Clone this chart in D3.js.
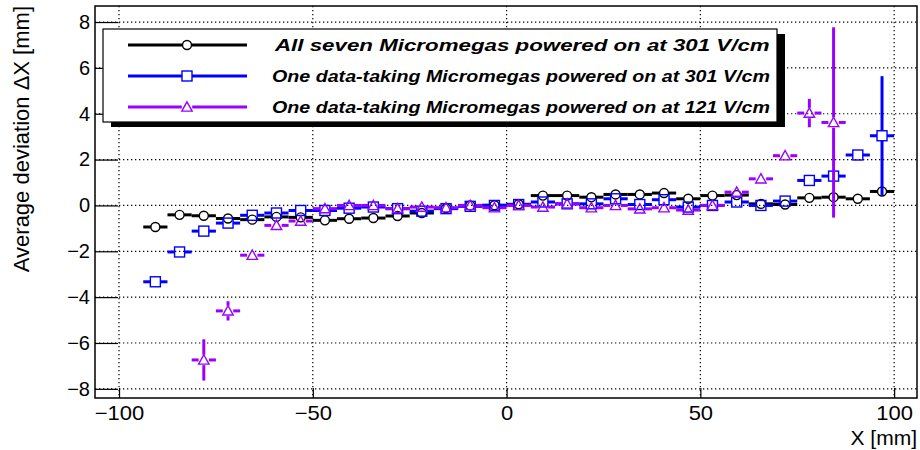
<!DOCTYPE html>
<html>
<head>
<meta charset="utf-8">
<script src="https://cdn.jsdelivr.net/npm/d3@7"></script>
<style>
  html, body { margin: 0; padding: 0; background: #fff; }
  svg { display: block; font-family: "Liberation Sans", Arial, Helvetica, sans-serif; }
</style>
</head>
<body>
<svg id="chart" width="920" height="450"></svg>
<script>
// Bin centres (6.25 mm wide bins)
const binCenters = [-96.875, -90.625, -84.375, -78.125, -71.875, -65.625, -59.375, -53.125,
  -46.875, -40.625, -34.375, -28.125, -21.875, -15.625, -9.375, -3.125,
  3.125, 9.375, 15.625, 21.875, 28.125, 34.375, 40.625, 46.875,
  53.125, 59.375, 65.625, 71.875, 78.125, 84.375, 90.625, 96.875];
const binHalfWidth = 3.125;

// Average deviation per bin (null = empty bin)
const allSevenMean = [null, -0.94, -0.41, -0.45, -0.57, -0.62, -0.50, -0.52,
  -0.65, -0.58, -0.55, -0.46, -0.33, -0.12, 0.00, 0.01,
  0.05, 0.43, 0.43, 0.36, 0.48, 0.48, 0.54, 0.29,
  0.43, 0.45, 0.07, 0.04, 0.33, 0.36, 0.29, 0.61];
const allSevenErr = [null, 0.08, 0.05, 0.05, 0.05, 0.05, 0.05, 0.05,
  0.05, 0.05, 0.05, 0.05, 0.05, 0.05, 0.05, 0.05,
  0.05, 0.05, 0.05, 0.05, 0.05, 0.05, 0.05, 0.05,
  0.05, 0.05, 0.05, 0.05, 0.06, 0.08, 0.10, 0.15];

const oneAt301Mean = [null, -3.33, -2.03, -1.12, -0.77, -0.43, -0.33, -0.22,
  -0.22, -0.12, -0.07, -0.14, -0.25, -0.14, -0.04, 0.00,
  0.04, 0.15, 0.07, 0.07, 0.29, 0.04, 0.25, -0.07,
  0.00, 0.15, 0.00, 0.19, 1.09, 1.28, 2.20, 3.04];
const oneAt301Err = [null, 0.18, 0.12, 0.10, 0.08, 0.07, 0.07, 0.07,
  0.07, 0.07, 0.07, 0.07, 0.07, 0.07, 0.07, 0.07,
  0.07, 0.07, 0.07, 0.07, 0.07, 0.07, 0.07, 0.07,
  0.07, 0.08, 0.08, 0.10, 0.12, 0.18, 0.15, 2.60];

const oneAt121Mean = [null, null, null, -6.74, -4.60, -2.17, -0.87, -0.68,
  -0.14, 0.00, 0.00, -0.14, -0.07, -0.10, 0.00, -0.10,
  0.00, -0.07, 0.07, -0.10, 0.00, -0.15, -0.10, -0.20,
  0.00, 0.58, 1.16, 2.17, 4.03, 3.62, null, null];
const oneAt121Err = [null, null, null, 0.90, 0.42, 0.15, 0.10, 0.08,
  0.07, 0.07, 0.07, 0.07, 0.07, 0.07, 0.07, 0.07,
  0.07, 0.07, 0.07, 0.07, 0.07, 0.07, 0.07, 0.07,
  0.08, 0.10, 0.15, 0.20, 0.62, 4.15, null, null];

const seriesNames = [
  "All seven Micromegas powered on at 301 V/cm",
  "One data-taking Micromegas powered on at 301 V/cm",
  "One data-taking Micromegas powered on at 121 V/cm"
];
const seriesColors = ["#000000", "#0000ff", "#9900ff"];
const seriesMarkers = ["circle", "square", "triangle"];

const xMajorTicks = [-100, -50, 0, 50, 100];
const yMajorTicks = [-8, -6, -4, -2, 0, 2, 4, 6, 8];
const xTitle = "X [mm]";
const yTitle = "Average deviation \u0394X [mm]";

const series = [
  { name: seriesNames[0], mean: allSevenMean, err: allSevenErr, color: seriesColors[0], marker: seriesMarkers[0] },
  { name: seriesNames[1], mean: oneAt301Mean, err: oneAt301Err, color: seriesColors[1], marker: seriesMarkers[1] },
  { name: seriesNames[2], mean: oneAt121Mean, err: oneAt121Err, color: seriesColors[2], marker: seriesMarkers[2] }
];

const svg = d3.select("#chart");
const frame = { left: 95, right: 917, top: 6, bottom: 398 };

const x = d3.scaleLinear().domain([-106.2, 105.9]).range([frame.left, frame.right]);
const y = d3.scaleLinear().domain([-8.4, 8.7]).range([frame.bottom, frame.top]);

// grid
const grid = svg.append("g").attr("stroke", "#000").attr("stroke-width", 1.2)
  .attr("stroke-dasharray", "1.3,2.7");
grid.selectAll("line.gx").data(xMajorTicks).join("line")
  .attr("x1", d => x(d)).attr("x2", d => x(d))
  .attr("y1", frame.top).attr("y2", frame.bottom);
grid.selectAll("line.gy").data(yMajorTicks).join("line")
  .attr("x1", frame.left).attr("x2", frame.right)
  .attr("y1", d => y(d)).attr("y2", d => y(d));

// axes (ticks pointing inward)
const labelSize = 20;
const xMinor = d3.range(-100, 101, 10);
const yMinor = d3.range(-8.4, 8.7, 0.4).map(v => +v.toFixed(2));

const xAxisG = svg.append("g").attr("transform", `translate(0,${frame.bottom})`);
xAxisG.call(d3.axisBottom(x).tickValues(xMinor).tickSize(-5).tickFormat(""));
xAxisG.call(d3.axisBottom(x).tickValues(xMajorTicks).tickSize(-10).tickPadding(8));
xAxisG.selectAll(".domain").remove();
xAxisG.selectAll("line").attr("stroke-width", 1.2);
xAxisG.selectAll("text").attr("font-size", labelSize).attr("fill", "#000")
  .attr("font-family", "Liberation Sans, Arial, sans-serif")
  .attr("transform", "scale(1.1,1)");

const yAxisG = svg.append("g").attr("transform", `translate(${frame.left},0)`);
yAxisG.call(d3.axisLeft(y).tickValues(yMinor).tickSize(-12).tickFormat(""));
yAxisG.call(d3.axisLeft(y).tickValues(yMajorTicks).tickSize(-23).tickPadding(5));
yAxisG.selectAll(".domain").remove();
yAxisG.selectAll("line").attr("stroke-width", 1.2);
yAxisG.selectAll("text").attr("font-size", labelSize).attr("fill", "#000")
  .attr("font-family", "Liberation Sans, Arial, sans-serif");

// frame
svg.append("rect")
  .attr("x", frame.left).attr("y", frame.top)
  .attr("width", frame.right - frame.left).attr("height", frame.bottom - frame.top)
  .attr("fill", "none").attr("stroke", "#000").attr("stroke-width", 1.5);

// axis titles
svg.append("text")
  .attr("x", frame.right).attr("y", 445)
  .attr("text-anchor", "end").attr("font-size", 21).text(xTitle);
svg.append("text")
  .attr("transform", `translate(29,${frame.top}) rotate(-90)`)
  .attr("text-anchor", "end").attr("font-size", 22).text(yTitle);

// markers
const markerSize = { circle: 4.5, square: 5, triangle: 5.2 };
function drawMarker(g, type, cx, cy, color) {
  if (type === "circle") {
    g.append("circle").attr("cx", cx).attr("cy", cy).attr("r", markerSize.circle)
      .attr("fill", "none").attr("stroke", color).attr("stroke-width", 1.4);
  } else if (type === "square") {
    const s = markerSize.square;
    g.append("rect").attr("x", cx - s).attr("y", cy - s).attr("width", 2 * s).attr("height", 2 * s)
      .attr("fill", "none").attr("stroke", color).attr("stroke-width", 1.4);
  } else {
    const s = markerSize.triangle;
    g.append("path")
      .attr("d", `M${cx},${cy - s} L${cx + s},${cy + s * 0.8} L${cx - s},${cy + s * 0.8} Z`)
      .attr("fill", "none").attr("stroke", color).attr("stroke-width", 1.4);
  }
}

// error bars with a gap around the marker, then markers
const plot = svg.append("g");
series.forEach(s => {
  const g = plot.append("g");
  const gap = markerSize[s.marker];
  binCenters.forEach((c, i) => {
    const v = s.mean[i];
    if (v === null) return;
    const px = x(c), py = y(v);
    const xl = x(c - binHalfWidth), xr = x(c + binHalfWidth);
    const yt = y(v + s.err[i]), yb = y(v - s.err[i]);
    const segs = [[xl, py, px - gap, py], [px + gap, py, xr, py]];
    if (py - yt > gap) segs.push([px, yt, px, py - gap]);
    if (yb - py > gap) segs.push([px, py + gap, px, yb]);
    segs.forEach(sg => g.append("line")
      .attr("x1", sg[0]).attr("y1", sg[1]).attr("x2", sg[2]).attr("y2", sg[3])
      .attr("stroke", s.color).attr("stroke-width", 3));
    drawMarker(g, s.marker, px, py, s.color);
  });
});

// legend with drop shadow; each entry's text is fitted to the box width
const leg = { x: 103, y: 29, w: 674, h: 93 };
svg.append("rect").attr("x", leg.x + 8).attr("y", leg.y + 5).attr("width", leg.w).attr("height", leg.h)
  .attr("fill", "#000");
svg.append("rect").attr("x", leg.x).attr("y", leg.y).attr("width", leg.w).attr("height", leg.h)
  .attr("fill", "#fff").attr("stroke", "#000").attr("stroke-width", 1.2);
const rowY = [45, 76, 107];
const textStart = [275, 272, 272];
const textSize = [17, 16.2, 16.2];
const textEnd = 770;
series.forEach((s, i) => {
  const ly = rowY[i];
  const mx = 187, gap = markerSize[s.marker];
  svg.append("line").attr("x1", 128).attr("x2", mx - gap).attr("y1", ly).attr("y2", ly)
    .attr("stroke", s.color).attr("stroke-width", 3);
  svg.append("line").attr("x1", mx + gap).attr("x2", 247).attr("y1", ly).attr("y2", ly)
    .attr("stroke", s.color).attr("stroke-width", 3);
  drawMarker(svg, s.marker, mx, ly, s.color);
  const t = svg.append("text")
    .attr("dy", "0.36em")
    .attr("font-size", textSize[i]).attr("font-weight", "bold").attr("font-style", "italic")
    .text(s.name);
  const w = t.node().getComputedTextLength();
  const k = (textEnd - textStart[i]) / w;
  t.attr("transform", `translate(${textStart[i]},${ly}) scale(${k},1)`);
});
</script>
</body>
</html>
